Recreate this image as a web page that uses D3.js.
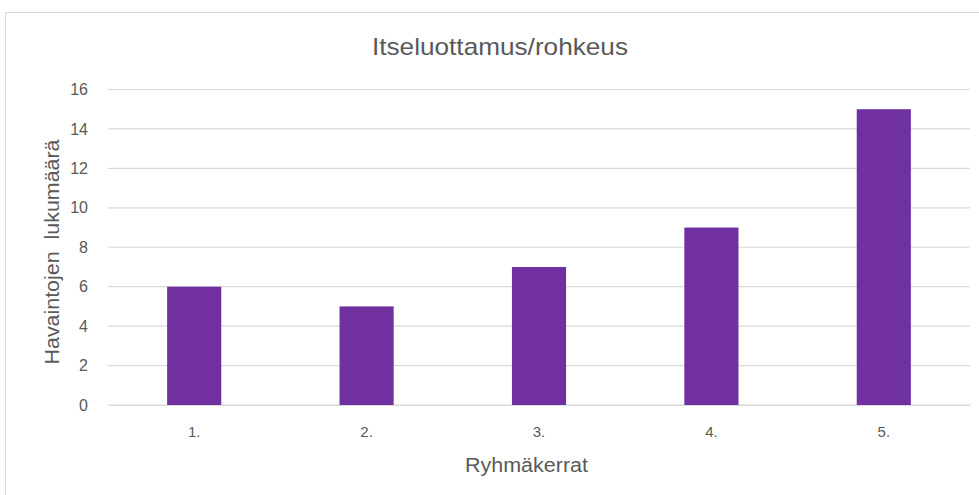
<!DOCTYPE html>
<html><head><meta charset="utf-8">
<script src="https://cdn.jsdelivr.net/npm/d3@7"></script>
<style>
body{margin:0;background:#fff;}
text{font-family:"Liberation Sans",Arial,sans-serif;fill:#595959;}
</style></head>
<body><svg id="c" width="979" height="495"></svg>
<script>
const categories = ["1.", "2.", "3.", "4.", "5."];
const values = [6, 5, 7, 9, 15];
const yTicks = [0, 2, 4, 6, 8, 10, 12, 14, 16];
const title = "Itseluottamus/rohkeus";
const xTitle = "Ryhmäkerrat";
const yTitle = "Havaintojen  lukumäärä";

const svg = d3.select("#c");
svg.append("rect").attr("x",5.5).attr("y",12.5).attr("width",1000).attr("height",1000)
  .attr("fill","#fff").attr("stroke","#d9d9d9");

const m = {left:108, right:970, top:89.5, bottom:405};
const x = d3.scaleBand().domain(categories).range([m.left, m.right]).paddingInner(0.686).paddingOuter(0.343);
const y = d3.scaleLinear().domain([0,16]).range([m.bottom, m.top]);

svg.append("g").selectAll("line").data(yTicks).join("line")
  .attr("x1",m.left).attr("x2",m.right)
  .attr("y1",d=>y(d)).attr("y2",d=>y(d))
  .attr("stroke","#d9d9d9").attr("stroke-width",1.2);

const yAxis = svg.append("g").attr("transform",`translate(${m.left},0)`)
  .call(d3.axisLeft(y).tickValues(yTicks).tickSize(0).tickPadding(20));
yAxis.select(".domain").remove();
yAxis.selectAll("text").attr("font-size",16).style("fill","#595959")
  .attr("font-family","Liberation Sans, sans-serif");

svg.append("g").selectAll("rect").data(values).join("rect")
  .attr("x",(d,i)=>x(categories[i])).attr("width",x.bandwidth())
  .attr("y",d=>y(d)).attr("height",d=>y(0)-y(d))
  .attr("fill","#7030a0");

const xAxis = svg.append("g").attr("transform",`translate(0,${m.bottom})`)
  .call(d3.axisBottom(x).tickSize(0).tickPadding(21));
xAxis.select(".domain").attr("stroke","#d9d9d9").attr("stroke-width",1.2);
xAxis.selectAll("text").attr("font-size",15).style("fill","#595959")
  .attr("font-family","Liberation Sans, sans-serif");

svg.append("text").attr("x",500).attr("y",55).attr("text-anchor","middle")
  .attr("font-size",24).attr("textLength",256).attr("lengthAdjust","spacingAndGlyphs").text(title);
svg.append("text").attr("x",526.5).attr("y",472).attr("text-anchor","middle")
  .attr("font-size",20).attr("textLength",123).attr("lengthAdjust","spacingAndGlyphs").text(xTitle);
svg.append("text").attr("transform","translate(59,252) rotate(-90)").attr("text-anchor","middle")
  .style("white-space","pre")
  .attr("font-size",20).attr("textLength",225).attr("lengthAdjust","spacingAndGlyphs").text(yTitle);
</script></body></html>
